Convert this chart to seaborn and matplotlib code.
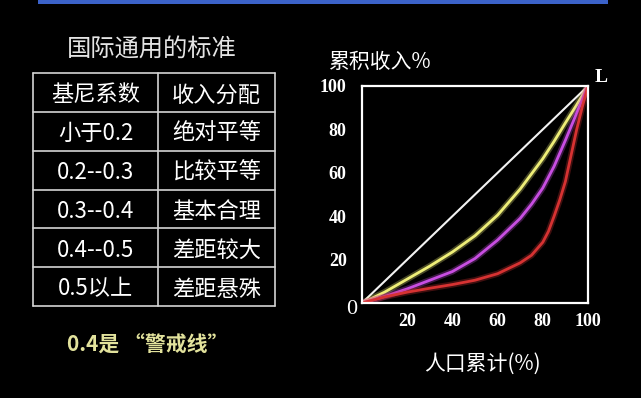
import numpy as np
import pandas as pd
import matplotlib
matplotlib.use("Agg")
import matplotlib.pyplot as plt
import matplotlib.patheffects as pe
from matplotlib.patches import Rectangle
import seaborn as sns

# ---------------- data ----------------
title = "国际通用的标准"
table_header = ["基尼系数", "收入分配"]
gini_ranges = ["小于0.2", "0.2--0.3", "0.3--0.4", "0.4--0.5", "0.5以上"]
distribution = ["绝对平等", "比较平等", "基本合理", "差距较大", "差距悬殊"]
warning_note = "0.4是 “警戒线”"

pop_equal = [0, 100]
income_equal = [0, 100]
pop_yellow = [0, 10, 20, 30, 40, 50, 60, 70, 80, 85, 90, 95, 100]
income_yellow = [0, 5, 11, 17, 23.5, 31, 40.5, 52.5, 66.5, 74.5, 83, 91.3, 100]
pop_purple = [0, 10, 20, 30, 40, 50, 60, 70, 75, 80, 85, 90, 95, 100]
income_purple = [0, 3, 6.5, 10.5, 14.5, 20.5, 29, 39, 45.5, 53, 63, 75, 87.5, 100]
pop_red = [0, 10, 20, 30, 40, 50, 60, 70, 75, 80, 82.5, 85, 87.5, 90, 92.5, 95, 97.5, 100]
income_red = [0, 2.8, 5, 6.8, 8.5, 10.5, 13.5, 18.5, 22, 28, 33, 40, 47.5, 56, 68, 80, 90.5, 100]

x_ticks = [20, 40, 60, 80, 100]
y_ticks = [20, 40, 60, 80, 100]
origin_label = "0"
y_label = "累积收入%"
x_label = "人口累计(%)"
end_label = "L"

# ---------------- style ----------------
sns.set_theme(style="white")
CJK = ["Noto Sans CJK SC", "DejaVu Sans"]
SERIF = ["Liberation Serif", "DejaVu Serif"]
plt.rcParams["font.family"] = CJK
plt.rcParams["axes.unicode_minus"] = False

W, H, DPI = 641, 398, 100
fig = plt.figure(figsize=(W / DPI, H / DPI), dpi=DPI, facecolor="black")

# background overlay in pixel coordinates for slide elements
bg = fig.add_axes([0, 0, 1, 1], zorder=1)
bg.set_xlim(0, W)
bg.set_ylim(H, 0)
bg.axis("off")
bg.add_patch(Rectangle((38, 0), 570, 4, color="#3b62c9", lw=0))

# title
bg.text(152, 47, title, color="#e4e4e4", fontsize=17.5, ha="center",
        va="center_baseline", family=CJK)

# table
tx0, tx1, tcol = 33, 275, 158
row_edges = np.linspace(73, 306, len(gini_ranges) + 2)
lc = "#d4d4d4"
for yy in row_edges:
    bg.plot([tx0, tx1], [yy, yy], color=lc, lw=1.2)
for xx in (tx0, tcol, tx1):
    bg.plot([xx, xx], [row_edges[0], row_edges[-1]], color=lc, lw=1.2)
c1, c2 = (tx0 + tcol) / 2, (tcol + tx1) / 2
rows = [table_header] + [[g, d] for g, d in zip(gini_ranges, distribution)]
for i, (a, b) in enumerate(rows):
    yc = (row_edges[i] + row_edges[i + 1]) / 2
    bg.text(c1, yc, a, color="white", fontsize=16, ha="center",
            va="center_baseline", family=CJK)
    bg.text(c2, yc, b, color="white", fontsize=16, ha="center",
            va="center_baseline", family=CJK)

bg.text(148, 343, warning_note, color="#e2e29c", fontsize=15, ha="center",
        va="center_baseline", fontweight="bold", family=CJK)

# ---------------- Lorenz chart ----------------
ax = fig.add_axes([362 / W, 1 - 303 / H, (588 - 362) / W, (303 - 86) / H], zorder=2)
ax.set_facecolor("black")

curves = [
    ("equal", pop_equal, income_equal, "#f2f2f2", 1.5),
    ("yellow", pop_yellow, income_yellow, "#eeee78", 2.0),
    ("purple", pop_purple, income_purple, "#c84ee2", 2.0),
    ("red", pop_red, income_red, "#d63232", 2.0),
]
for name, xs, ys, col, lw in curves:
    df = pd.DataFrame({"pop": xs, "income": ys})
    sns.lineplot(data=df, x="pop", y="income", ax=ax, color=col, lw=lw,
                 sort=False, estimator=None)
    line = ax.lines[-1]
    if name != "equal":
        line.set_path_effects([pe.Stroke(linewidth=lw + 2.5, foreground=col, alpha=0.3),
                               pe.Normal()])
    line.set_solid_capstyle("round")
    line.set_solid_joinstyle("round")

ax.set_xlim(0, 100)
ax.set_ylim(0, 100)
ax.set_xlabel("")
ax.set_ylabel("")
for s in ax.spines.values():
    s.set_color("white")
    s.set_linewidth(1.6)
    s.set_visible(True)
ax.set_xticks(x_ticks)
ax.set_yticks(y_ticks)
ax.set_xticklabels([str(t) for t in x_ticks])
ax.set_yticklabels([str(t) for t in y_ticks])
ax.tick_params(axis="both", direction="in", colors="white", width=1.3, labelsize=13)
ax.tick_params(axis="y", length=7, pad=11)
ax.tick_params(axis="x", length=6, pad=7)
for lab in ax.get_xticklabels() + ax.get_yticklabels():
    lab.set_family(SERIF)
    lab.set_fontweight("bold")
ax.grid(False)

# slide texts around the chart (pixel coordinates)
bg.text(352, 309, origin_label, color="white", fontsize=16, ha="center",
        va="center", family=SERIF)
bg.text(601, 78, end_label, color="white", fontsize=14, ha="center",
        va="center", family=SERIF, fontweight="bold")
bg.text(380, 60, y_label, color="white", fontsize=15, ha="center",
        va="center_baseline", family=CJK)
bg.text(482, 361, x_label, color="white", fontsize=15, ha="center",
        va="center_baseline", family=CJK)

fig.savefig("out.png", dpi=DPI, facecolor="black")
